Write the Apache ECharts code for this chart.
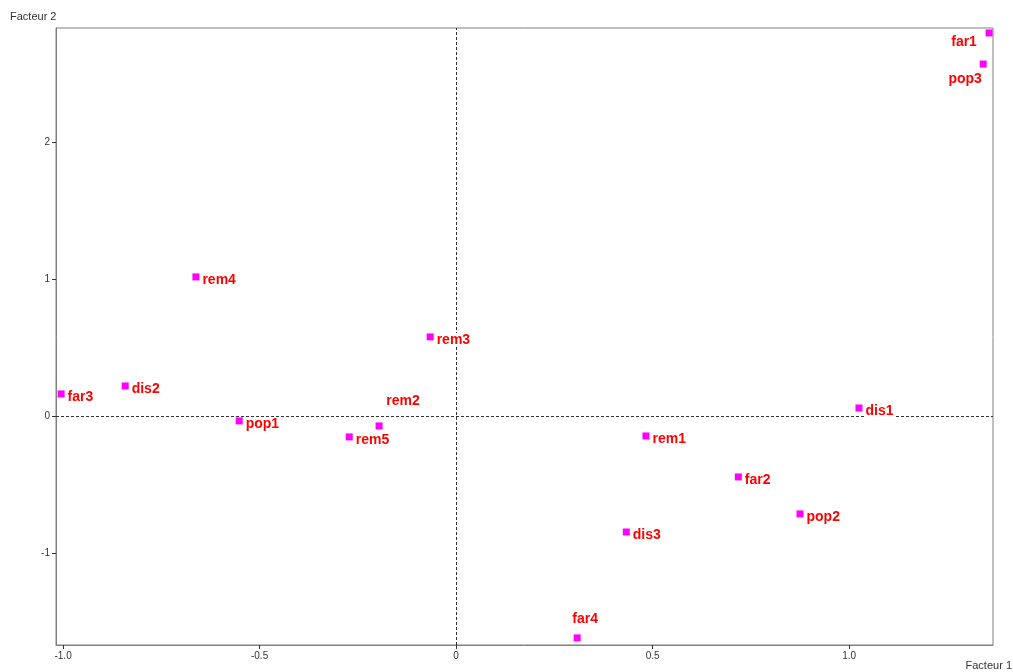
<!DOCTYPE html>
<html>
<head>
<meta charset="utf-8">
<script src="https://cdn.jsdelivr.net/npm/echarts@6/dist/echarts.min.js"></script>
<style>
html,body{margin:0;padding:0;background:#fff;}
#chart{width:1013px;height:672px;}
</style>
</head>
<body>
<div id="chart"></div>
<script>
// Data
const names   = ['far1','pop3','rem4','rem3','dis2','far3','pop1','rem2','rem5','dis1','rem1','far2','pop2','dis3','far4'];
const xValues = [1.356, 1.341, -0.662, -0.066, -0.842, -1.005, -0.552, -0.196, -0.272, 1.025, 0.483, 0.718, 0.875, 0.433, 0.308];
const yValues = [2.796, 2.569, 1.015, 0.577, 0.219, 0.161, -0.036, -0.073, -0.153, 0.058, -0.146, -0.445, -0.715, -0.847, -1.620];
const xTicks = [-1.0, -0.5, 0, 0.5, 1.0];
const yTicks = [-1, 0, 1, 2];
const xTickLabels = ['-1.0', '-0.5', '0', '0.5', '1.0'];
const yTickLabels = ['-1', '0', '1', '2'];

// Label placement (layout, not data)
const labelPlacement = {
  far1: { position: 'inside', offset: [-25, 9] },
  pop3: { position: 'inside', offset: [-18, 15] },
  rem2: { position: 'inside', offset: [24, -25] },
  far4: { position: 'inside', offset: [8, -19] }
};

const points = names.map((n, i) => {
  const p = { name: n, value: [xValues[i], yValues[i]] };
  if (labelPlacement[n]) {
    p.label = { position: labelPlacement[n].position, offset: labelPlacement[n].offset, backgroundColor: 'transparent' };
  }
  return p;
});

const chart = echarts.init(document.getElementById('chart'), null, { renderer: 'canvas' });
const axisGray = '#808080';
chart.setOption({
  animation: false,
  backgroundColor: '#ffffff',
  grid: { left: 56, right: 20, top: 28, bottom: 27, show: true, borderColor: axisGray, borderWidth: 1, backgroundColor: 'transparent' },
  xAxis: {
    type: 'value', min: -1.018, max: 1.366,
    axisLine: { show: true, onZero: false, lineStyle: { color: axisGray, width: 1 } },
    axisTick: { show: true, inside: false, length: 4, lineStyle: { color: '#333' }, customValues: xTicks },
    axisLabel: {
      customValues: xTicks, color: '#333', fontSize: 10, fontFamily: 'Liberation Sans, Arial, sans-serif', margin: 6,
      formatter: v => { const i = xTicks.findIndex(t => Math.abs(t - v) < 1e-9); return i >= 0 ? xTickLabels[i] : ''; }
    },
    splitLine: { show: false }
  },
  yAxis: {
    type: 'value', min: -1.672, max: 2.832,
    axisLine: { show: true, onZero: false, lineStyle: { color: axisGray, width: 1 } },
    axisTick: { show: true, inside: false, length: 4, lineStyle: { color: '#333' }, customValues: yTicks },
    axisLabel: {
      customValues: yTicks, color: '#333', fontSize: 10, fontFamily: 'Liberation Sans, Arial, sans-serif', margin: 6,
      formatter: v => { const i = yTicks.findIndex(t => Math.abs(t - v) < 1e-9); return i >= 0 ? yTickLabels[i] : ''; }
    },
    splitLine: { show: false }
  },
  graphic: [
    { type: 'text', left: 10, top: 11, style: { text: 'Facteur 2', fill: '#333', font: '11px "Liberation Sans", Arial, sans-serif' } },
    { type: 'text', right: 1, top: 660, style: { text: 'Facteur 1', fill: '#333', font: '11px "Liberation Sans", Arial, sans-serif' } }
  ],
  series: [{
    type: 'scatter',
    symbol: 'rect',
    symbolSize: 7,
    itemStyle: { color: '#ff00ff', opacity: 1 },
    emphasis: { disabled: true },
    data: points,
    z: 5,
    label: {
      show: true,
      formatter: p => p.name,
      position: 'right',
      distance: 2,
      offset: [0, 3],
      color: '#ff0000',
      opacity: 1,
      fontWeight: 'bold',
      fontSize: 14,
      fontFamily: 'Liberation Sans, Arial, sans-serif',
      backgroundColor: '#ffffff',
      padding: [0, 1]
    },
    markLine: {
      silent: true,
      symbol: 'none',
      label: { show: false },
      lineStyle: { color: '#333', type: [3, 2], width: 1, opacity: 1 },
      z: 1,
      data: [{ xAxis: 0 }, { yAxis: 0 }]
    }
  }]
});
</script>
</body>
</html>
